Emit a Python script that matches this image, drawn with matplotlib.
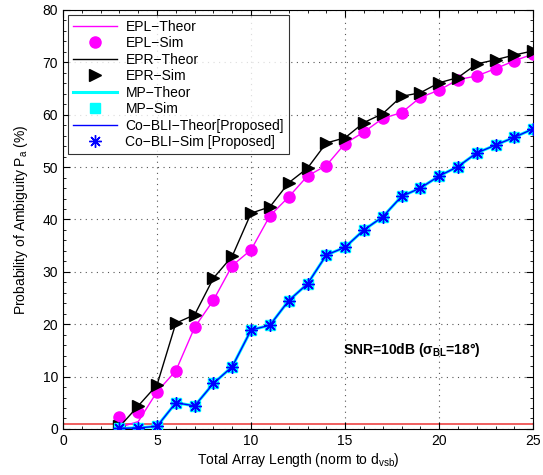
import matplotlib.pyplot as plt
import numpy as np
from matplotlib.ticker import MultipleLocator

plt.rcParams['font.family'] = ['Liberation Sans', 'DejaVu Sans']
plt.rcParams['mathtext.fontset'] = 'custom'
plt.rcParams['mathtext.rm'] = 'Liberation Sans'
plt.rcParams['mathtext.it'] = 'Liberation Sans'
plt.rcParams['mathtext.bf'] = 'Liberation Sans:bold'

# Dizi uzunluklari
L = list(range(3, 26))

# EPL
epl_sim = [2.3, 3.3, 7.1, 11.1, 19.4, 24.6, 31.2, 34.2, 40.7, 44.3, 48.3, 50.3,
           54.5, 56.7, 59.3, 60.4, 63.3, 64.7, 66.7, 67.4, 68.8, 70.3, 71.6]
epl_theor = [0.3, 1.4, 7.1, 11.1, 19.4, 24.6, 31.2, 34.2, 40.7, 44.3, 48.3, 50.3,
             54.5, 56.7, 59.3, 60.4, 63.3, 64.7, 66.7, 67.4, 68.8, 70.3, 71.6]
# EPR
epr_sim = [0.5, 4.4, 8.4, 20.2, 21.8, 28.8, 33.0, 41.2, 42.4, 47.0, 49.8, 54.6,
           55.6, 58.5, 60.2, 63.5, 64.2, 66.1, 67.1, 69.7, 70.5, 71.4, 72.2]
epr_theor = [0.4, 4.4, 8.4, 20.2, 21.8, 28.8, 33.0, 41.2, 42.4, 47.0, 49.8, 54.6,
             55.6, 58.5, 60.2, 63.5, 64.2, 66.1, 67.1, 69.7, 70.5, 71.4, 72.2]
# MP ve Co-BLI (ayni degerler)
co_sim = [0.1, 0.2, 0.5, 5.0, 4.4, 8.7, 11.9, 18.9, 19.8, 24.5, 27.7, 33.2,
          34.7, 38.0, 40.5, 44.4, 46.0, 48.3, 50.1, 52.7, 54.2, 55.7, 57.3]
mp_sim = co_sim
co_theor = co_sim
mp_theor = co_sim

# esik cizgisi (%1)
threshold = 1.0

fig = plt.figure(figsize=(5.43, 4.75), dpi=100)
ax = fig.add_axes([0.116, 0.097, 0.866, 0.882])

ax.plot([0, 25], [threshold, threshold], color='#f06060', lw=1.4, zorder=1)

ax.plot(L, epl_theor, color='#ff00ff', lw=1.0, label='EPL\u2212Theor', zorder=3)
ax.plot(L, epl_sim, 'o', color='#ff00ff', ms=8, label='EPL\u2212Sim', zorder=3)
ax.plot(L, epr_theor, color='black', lw=1.0, label='EPR\u2212Theor', zorder=4)
ax.plot(L, epr_sim, '>', color='black', ms=8, label='EPR\u2212Sim', zorder=4)
ax.plot(L, mp_theor, color='#00ffff', lw=2.2, label='MP\u2212Theor', zorder=5)
ax.plot(L, mp_sim, 's', color='#00ffff', ms=7, label='MP\u2212Sim', zorder=5)
ax.plot(L, co_theor, color='#0000ff', lw=1.0, label='Co\u2212BLI\u2212Theor[Proposed]', zorder=6)
ax.plot(L, co_sim, ls='none', marker=(8, 2, 0), color='#0000ff', mec='#0000ff',
        ms=9, mew=1.0, label='Co\u2212BLI\u2212Sim [Proposed]', zorder=6)

ax.set_xlim(0, 25)
ax.set_ylim(0, 80)
ax.xaxis.set_major_locator(MultipleLocator(5))
ax.yaxis.set_major_locator(MultipleLocator(10))
ax.xaxis.set_minor_locator(MultipleLocator(1))
ax.yaxis.set_minor_locator(MultipleLocator(2))
ax.tick_params(which='both', direction='in', top=True, right=True, labelsize=10)
ax.tick_params(which='major', length=5)
ax.tick_params(which='minor', length=2.5)
ax.grid(True, which='major', linestyle=(0, (1, 4)), color='#555555', lw=0.8)
for s in ax.spines.values():
    s.set_linewidth(0.8)

ax.set_xlabel('Total Array Length (norm to d$_{\\mathrm{vsb}}$)', fontsize=10, labelpad=2)
ax.set_ylabel('Probability of Ambiguity P$_{\\mathrm{a}}$ (%)', fontsize=10, labelpad=9)

ax.text(14.9, 15, 'SNR=10dB ($\\mathbf{\\sigma_{BL}}$=18\u00b0)', fontsize=10,
        fontweight='bold', va='center', ha='left')

leg = ax.legend(loc='upper left', fontsize=10, frameon=True, fancybox=False,
                edgecolor='black', borderpad=0.35, labelspacing=0.18,
                handlelength=3.2, handletextpad=0.6, borderaxespad=0.35)
leg.get_frame().set_linewidth(0.8)

fig.savefig('out.png', dpi=100)
